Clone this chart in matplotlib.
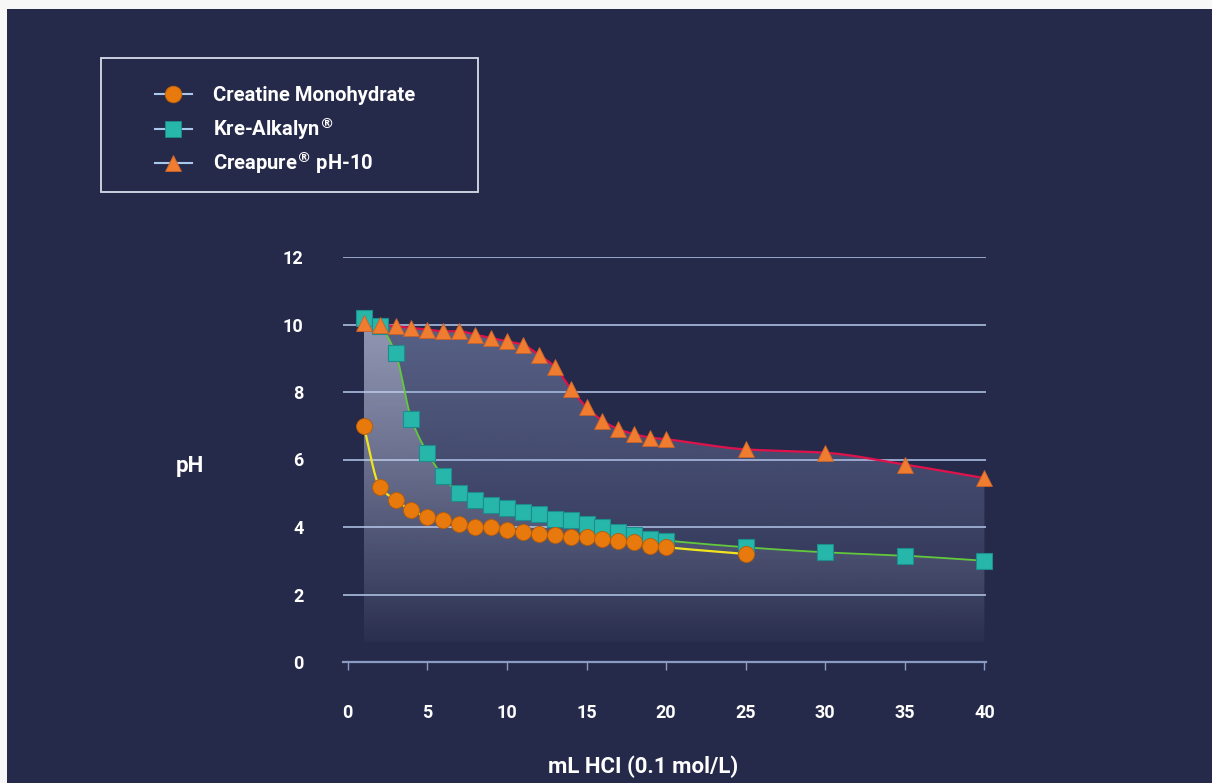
import numpy as np
import matplotlib
matplotlib.use("Agg")
import matplotlib.pyplot as plt
from matplotlib.patches import Rectangle
from matplotlib.lines import Line2D

plt.rcParams['font.family'] = ['Roboto', 'DejaVu Sans']
plt.rcParams['font.weight'] = 'bold'
plt.rcParams['mathtext.default'] = 'bf'

# data to plot
ml_short = [1, 2, 3, 4, 5, 6, 7, 8, 9, 10, 11, 12, 13, 14, 15, 16, 17, 18, 19, 20, 25]
ml_long = [1, 2, 3, 4, 5, 6, 7, 8, 9, 10, 11, 12, 13, 14, 15, 16, 17, 18, 19, 20, 25, 30, 35, 40]

creatine_mono = [7.0, 5.2, 4.8, 4.5, 4.3, 4.2, 4.1, 4.0, 4.0, 3.9, 3.85, 3.8, 3.75, 3.7,
                 3.7, 3.65, 3.6, 3.55, 3.45, 3.4, 3.2]
kre_alkalyn = [10.2, 9.95, 9.15, 7.2, 6.2, 5.5, 5.0, 4.8, 4.65, 4.55, 4.45, 4.4, 4.25, 4.2,
               4.1, 4.0, 3.85, 3.75, 3.65, 3.6, 3.4, 3.25, 3.15, 3.0]
creapure = [10.05, 10.0, 9.95, 9.9, 9.85, 9.8, 9.8, 9.7, 9.6, 9.5, 9.4, 9.1, 8.75, 8.1,
            7.55, 7.15, 6.9, 6.75, 6.65, 6.6, 6.3, 6.2, 5.85, 5.45]

labels = ['Creatine Monohydrate', 'Kre-Alkalyn$^{\u00ae}$', 'Creapure$^{\u00ae}$ pH-10']

BG = '#262a4a'
W, H = 1212, 783


def pchip(x, y, n=400):
    # monotone cubic smoothing of the curve between data points
    x = np.asarray(x, float)
    y = np.asarray(y, float)
    h = np.diff(x)
    d = np.diff(y) / h
    m = np.zeros_like(y)
    for k in range(1, len(y) - 1):
        if d[k - 1] * d[k] > 0:
            w1 = 2 * h[k] + h[k - 1]
            w2 = h[k] + 2 * h[k - 1]
            m[k] = (w1 + w2) / (w1 / d[k - 1] + w2 / d[k])
    m[0] = d[0]
    m[-1] = d[-1]
    xs = np.linspace(x[0], x[-1], n)
    idx = np.clip(np.searchsorted(x, xs) - 1, 0, len(x) - 2)
    t = (xs - x[idx]) / h[idx]
    h00 = 2 * t**3 - 3 * t**2 + 1
    h10 = t**3 - 2 * t**2 + t
    h01 = -2 * t**3 + 3 * t**2
    h11 = t**3 - t**2
    ys = h00 * y[idx] + h10 * h[idx] * m[idx] + h01 * y[idx + 1] + h11 * h[idx] * m[idx + 1]
    return xs, ys


def gradient_fill(ax, xs, ys, ybot, color, a_top, a_bot, y_top, zorder):
    poly = ax.fill_between(xs, ys, ybot, facecolor='none', edgecolor='none')
    path = poly.get_paths()[0]
    rgb = matplotlib.colors.to_rgb(color)
    img = np.zeros((256, 1, 4))
    img[:, 0, :3] = rgb
    img[:, 0, 3] = np.linspace(a_bot, a_top, 256)
    im = ax.imshow(img, extent=[xs.min(), xs.max(), ybot, y_top], origin='lower',
                   aspect='auto', zorder=zorder, interpolation='bilinear')
    im.set_clip_path(path, transform=ax.transData)


fig = plt.figure(figsize=(12.12, 7.83), dpi=100, facecolor='#f7f7f7')
fig.patches.append(Rectangle((7 / W, 0), 1 - 7 / W, 1 - 9 / H,
                             transform=fig.transFigure, facecolor=BG, edgecolor='none', zorder=-5))

ax = fig.add_axes([343 / W, 121 / H, 643 / W, 405 / H])
ax.set_facecolor('none')

xc, yc = pchip(ml_short, creatine_mono)
xk, yk = pchip(ml_long, kre_alkalyn)
xp, yp = pchip(ml_long, creapure)

# shaded areas
gradient_fill(ax, xp, yp, 0.6, '#9fb0dc', 0.42, 0.04, 10.2, 1)
gradient_fill(ax, xk, yk, 0.6, '#e6e8f4', 0.42, 0.0, 10.3, 1.1)

ax.grid(axis='y', color='#a9bde0', linewidth=1.2, zorder=1.5)
ax.set_axisbelow(True)

ax.plot(xk, yk, color='#62c83c', linewidth=1.3, zorder=2)
ax.plot(xc, yc, color='#f2e41c', linewidth=1.6, zorder=2.1)
ax.plot(xp, yp, color='#e0124c', linewidth=1.6, zorder=2.2)

ax.plot(ml_long, kre_alkalyn, 's', markersize=11.5, color='#27b6aa',
        markeredgecolor='#1d8c8c', markeredgewidth=0.8, zorder=3, clip_on=False)
ax.plot(ml_short, creatine_mono, 'o', markersize=11.5, color='#e8790c',
        markeredgecolor='#b85c08', markeredgewidth=0.6, zorder=4, clip_on=False)
ax.plot(ml_long, creapure, '^', markersize=11.5, color='#f07c30',
        markeredgecolor='#c8622a', markeredgewidth=0.6, zorder=5, clip_on=False)

ax.set_xlim(-0.3, 40.1)
ax.set_ylim(0, 12)
ax.set_xticks(np.arange(0, 41, 5))
ax.set_yticks(np.arange(0, 13, 2))

for s in ['top', 'right', 'left']:
    ax.spines[s].set_visible(False)
ax.spines['bottom'].set_color('#8a9cc4')
ax.spines['bottom'].set_linewidth(1.6)
ax.tick_params(axis='x', direction='out', length=6, width=1, color='#8a9cc4',
               pad=24.5, labelcolor='white', labelsize=13)
ax.tick_params(axis='y', length=0, pad=28.5, labelcolor='white', labelsize=13)
for lab in ax.get_xticklabels() + ax.get_yticklabels():
    lab.set_fontweight('bold')

fig.text(190 / W, 1 - 466 / H, 'pH', color='white', fontsize=16, fontweight='bold',
         ha='center', va='center')
fig.text(643 / W, 1 - 767 / H, 'mL HCI (0.1 mol/L)', color='white', fontsize=16,
         fontweight='bold', ha='center', va='center')

# legend, drawn by hand so the rows are evenly spaced
markers = ['o', 's', '^']
faces = ['#e8790c', '#27b6aa', '#f07c30']
edges = ['#b85c08', '#1d8c8c', '#c8622a']
rows = [94, 129, 163]
for lab, mk, fc, ec, ry in zip(labels, markers, faces, edges, rows):
    yy = 1 - ry / H
    fig.add_artist(Line2D([155 / W, 192 / W], [yy, yy], transform=fig.transFigure,
                          color='#a8c8ec', linewidth=1.5))
    fig.add_artist(Line2D([173 / W], [yy], transform=fig.transFigure, marker=mk,
                          markersize=12, markerfacecolor=fc, markeredgecolor=ec,
                          markeredgewidth=0.6, linestyle='none'))
    fig.text(213 / W, 1 - (ry + 7) / H, lab, color='white', fontsize=14.5,
             fontweight='bold', ha='left', va='baseline')
fig.patches.append(Rectangle((101 / W, 1 - 192 / H), 377 / W, 134 / H,
                             transform=fig.transFigure, facecolor='none',
                             edgecolor='#d8dcea', linewidth=1.3, zorder=1))

fig.savefig('out.png', dpi=100, facecolor=fig.get_facecolor())
